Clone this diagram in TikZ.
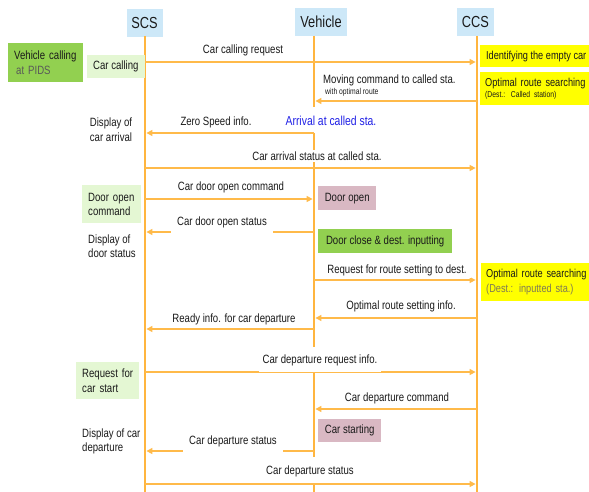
\documentclass[tikz,border=0pt]{standalone}
\usepackage{fontspec}
\setmainfont{Liberation Sans}[FakeStretch=0.8]
\usetikzlibrary{arrows.meta}

\definecolor{hdrblue}{HTML}{CDE8F8}
\definecolor{lifeor}{HTML}{FFB53F}
\definecolor{msgor}{HTML}{FFBA4A}
\definecolor{txt}{HTML}{1A1A1A}
\definecolor{dkgreen}{HTML}{92D050}
\definecolor{ltgreen}{HTML}{E4F7D3}
\definecolor{pinkbox}{HTML}{D9B8C3}
\definecolor{yelbox}{HTML}{FFFF00}
\definecolor{arrblue}{HTML}{2121E6}
\definecolor{olive}{HTML}{7F7A55}

\newcommand\msgfont{\fontsize{12}{14}\selectfont}
\newcommand\yelfont{\fontsize{11.5}{13.5}\selectfont}
\newcommand\hdrfont{\fontsize{16}{18}\selectfont}
\newcommand\tinyfont{\fontsize{8.5}{10}\selectfont}

\begin{document}
\begin{tikzpicture}[x=1pt,y=-1pt,
  hdr/.style={fill=hdrblue, font=\hdrfont, text=txt, inner sep=0pt, minimum height=28pt},
  life/.style={draw=lifeor, line width=2.6pt},
  msg/.style={draw=msgor, line width=1.4pt, shorten >=1.4pt,
              -{Triangle[length=6pt,width=6pt]}},
  lbl/.style={fill=white, inner xsep=4pt, inner ysep=2pt, font=\msgfont, text=txt},
  cover/.style={fill=white, inner xsep=6pt, minimum height=24pt, font=\msgfont, text=txt},
  plain/.style={inner sep=0pt, font=\msgfont, text=txt, align=left},
  boxed/.style={inner ysep=0pt, font=\msgfont, text=txt, align=left},
]
\useasboundingbox (0,0) rectangle (589,492);

% ---- participants ----
\node[hdr, minimum width=36pt] (scs) at (144.5,23) {SCS};
\node[hdr, minimum width=52pt] (veh) at (321,22) {Vehicle};
\node[hdr, minimum width=37pt] (ccs) at (475.5,22) {CCS};

% lifeline ends
\coordinate (stop) at (145,36);
\coordinate (sbot) at (145,492);
\coordinate (ctop) at (477,36);
\coordinate (cbot) at (477,492);
\coordinate (vtop) at (314,36);
\coordinate (va) at (314,107);
\coordinate (vb) at (314,133);
\coordinate (vc) at (314,347);
\coordinate (vd) at (314,371);
\coordinate (ve) at (314,457);
\coordinate (vf) at (314,483);
\coordinate (vbot) at (314,492);

\draw[life] (stop) -- (sbot);
\draw[life] (ctop) -- (cbot);
\draw[life] (vtop) -- (va);
\draw[life] (vb) -- (vc);
\draw[life] (vd) -- (ve);
\draw[life] (vf) -- (vbot);

% ---- messages ----
\draw[msg] (stop |- 0,62)  -- (ctop |- 0,62);
\draw[msg] (ctop |- 0,101) -- (vtop |- 0,101);
\draw[msg] (vtop |- 0,133) -- (stop |- 0,133);
\draw[msg] (stop |- 0,168) -- (ctop |- 0,168);
\draw[msg] (stop |- 0,199) -- (vtop |- 0,199);
\draw[msg] (vtop |- 0,232) -- (stop |- 0,232);
\draw[msg] (vtop |- 0,280) -- (ctop |- 0,280);
\draw[msg] (ctop |- 0,318) -- (vtop |- 0,318);
\draw[msg] (vtop |- 0,329) -- (stop |- 0,329);
\draw[msg] (stop |- 0,372) -- (ctop |- 0,372);
\draw[msg] (ctop |- 0,409) -- (vtop |- 0,409);
\draw[msg] (vtop |- 0,451) -- (stop |- 0,451);
\draw[msg] (stop |- 0,484) -- (ctop |- 0,484);

% ---- message labels ----
\node[lbl] (m1) at (243,50) {Car calling request};
\node[plain, anchor=north west] (m2) at (323,75)
  {Moving command to called sta.\\[-3.5pt]\hspace*{2pt}{\tinyfont with optimal route}};
\node[lbl] (m3) at (216,122) {Zero Speed info.};
\node[lbl, font=\fontsize{13}{15}\selectfont, text=arrblue] (arr) at (331,121) {Arrival at called sta.};
\node[lbl] (m4) at (317,156) {Car arrival status at called sta.};
\node[lbl] (m5) at (231,187) {Car door open command};
\node[cover] (m6) at (222,222) {Car door open status};
\node[lbl] (m7) at (397,270) {Request for route setting to dest.};
\node[lbl] (m8) at (401,306) {Optimal route setting info.};
\node[lbl] (m9) at (234,319) {Ready info. for car departure};
\node[lbl, minimum height=24pt] (m10) at (320,360) {Car departure request info.};
\node[lbl] (m11) at (397,398) {Car departure command};
\node[cover] (m12) at (233,441) {Car departure status};
\node[lbl, minimum height=24pt] (m13) at (310,471) {Car departure status};

% ---- SCS side ----
\node[boxed, fill=dkgreen, minimum width=75pt, minimum height=39pt,
      inner xsep=6pt, text width=63pt, anchor=north west] (pids) at (8,43)
  {Vehicle calling\\[1.5pt]\hspace*{2pt}{\color{black!65}at PIDS}};
\node[boxed, fill=ltgreen, minimum width=56pt, minimum height=23pt,
      inner xsep=6pt, anchor=north west] (carcall) at (87,55) {Car calling};
\node[plain, align=center] (disp1) at (111,129.5) {Display of\\[1pt]car arrival};
\node[boxed, fill=ltgreen, minimum width=59pt, minimum height=38pt,
      inner xsep=6pt, text width=47pt, anchor=north west] (dooropencmd) at (82,185)
  {Door open\\[0pt]command};
\node[plain, anchor=west] (disp2) at (88,246.5) {Display of\\[0pt]door status};
\node[boxed, fill=ltgreen, minimum width=63pt, minimum height=37pt,
      inner xsep=6pt, text width=51pt, anchor=north west] (reqstart) at (76,362)
  {Request for\\[1pt]car start};
\node[plain, anchor=west] (disp3) at (82,441) {Display of car\\[0pt]departure};

% ---- Vehicle side ----
\node[boxed, fill=pinkbox, minimum width=58pt, minimum height=24pt,
      inner xsep=6pt, anchor=north west] (dooropen) at (318,186) {Door open};
\node[boxed, fill=dkgreen, minimum width=134pt, minimum height=24pt,
      inner xsep=5pt, anchor=north west] (doorclose) at (318,229) {Door close \& dest. inputting};
\node[boxed, fill=pinkbox, minimum width=63pt, minimum height=23pt,
      inner xsep=5pt, anchor=north west] (carstart) at (318,419) {Car starting};

% ---- CCS side ----
\node[boxed, fill=yelbox, font=\yelfont, minimum width=112pt, minimum height=22pt,
      inner xsep=4pt, anchor=north west]
  (ident) at (480,45) {Identifying the empty car};
\node[boxed, fill=yelbox, font=\yelfont, minimum width=112pt, minimum height=33pt, text width=102pt,
      inner xsep=5pt, anchor=north west] (opt1) at (480,72)
  {Optimal route searching\\[-3pt]{\tinyfont (Dest.: Called station)}};
\node[boxed, fill=yelbox, font=\yelfont, minimum width=112pt, minimum height=38pt, text width=102pt,
      inner xsep=5pt, anchor=north west] (opt2) at (481,263)
  {Optimal route searching\\[1pt]{\color{olive}(Dest.: inputted sta.)}};
\end{tikzpicture}
\end{document}
